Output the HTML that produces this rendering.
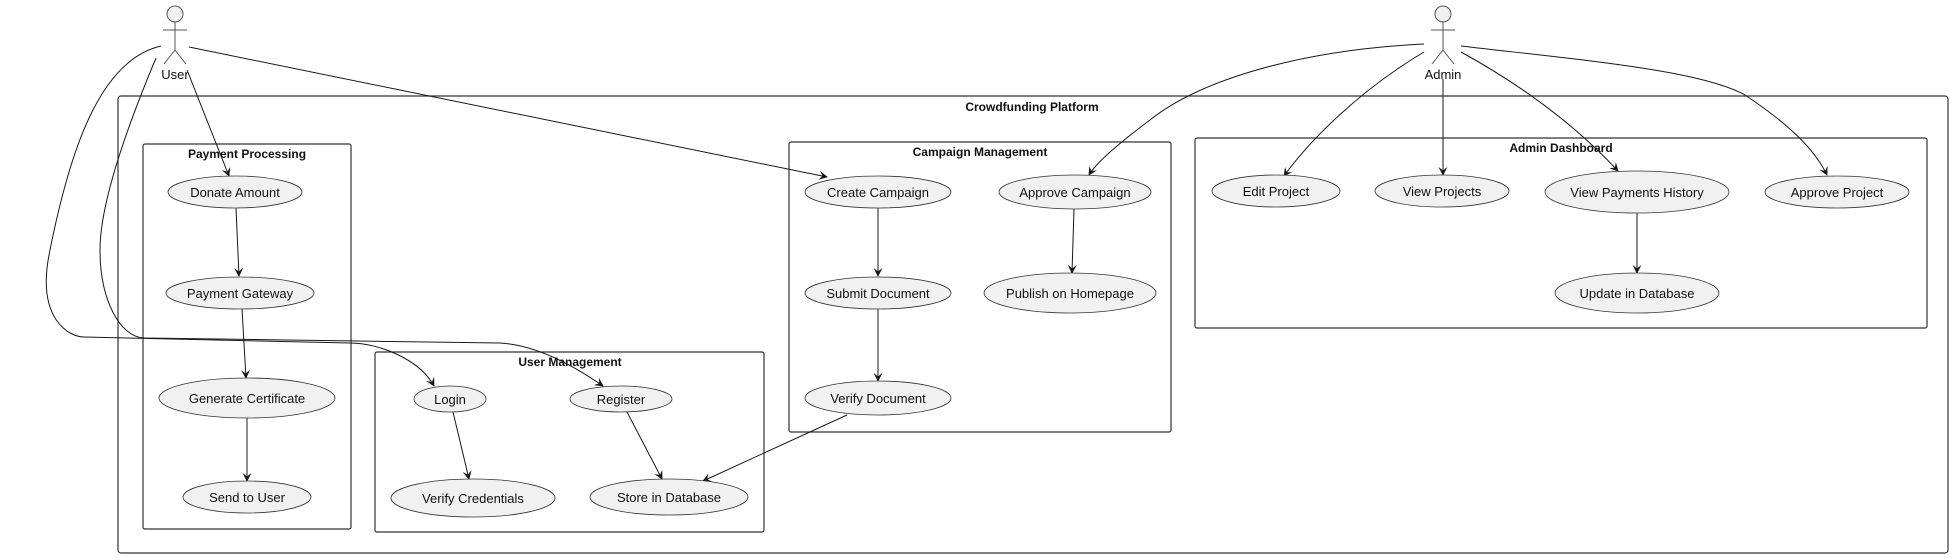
<!DOCTYPE html>
<html><head><meta charset="utf-8"><style>
html,body{margin:0;padding:0;background:#fff;}
svg{display:block;}
text{font-family:"Liberation Sans",sans-serif;fill:#111;}
.t{font-size:13px;text-anchor:middle;}
.b{font-size:12px;font-weight:bold;text-anchor:middle;}
.e{fill:#f1f1f1;stroke:#333;stroke-width:0.8;}
.box{fill:none;stroke:#333;stroke-width:1.2;}
.c{fill:none;stroke:#181818;stroke-width:1;}
</style></head><body>
<svg width="1954" height="560" viewBox="0 0 1954 560" xmlns="http://www.w3.org/2000/svg">
<defs><marker id="a" viewBox="0 0 10 10" refX="9" refY="5" markerWidth="9" markerHeight="9" orient="auto"><path d="M0,0 L10,5 L0,10 L4,5 Z" fill="#181818"/></marker></defs>

<!-- boxes -->
<rect class="box" x="118" y="96" width="1830" height="457" rx="3"/>
<text class="b" x="1032" y="111">Crowdfunding Platform</text>
<rect class="box" x="143" y="144" width="208" height="385" rx="2"/>
<text class="b" x="247" y="158">Payment Processing</text>
<rect class="box" x="375" y="352" width="389" height="180" rx="2"/>
<text class="b" x="570" y="366">User Management</text>
<rect class="box" x="789" y="142" width="382" height="290" rx="2"/>
<text class="b" x="980" y="156">Campaign Management</text>
<rect class="box" x="1195" y="138" width="732" height="190" rx="2"/>
<text class="b" x="1561" y="152">Admin Dashboard</text>

<!-- actors -->
<g stroke="#555" stroke-width="1" fill="#f1f1f1">
<circle cx="175" cy="14" r="8"/>
<line x1="175" y1="22" x2="175" y2="50"/><line x1="163" y1="30" x2="187" y2="30"/>
<line x1="175" y1="50" x2="164" y2="64" fill="none"/><line x1="175" y1="50" x2="186" y2="64"/>
<circle cx="1443" cy="14" r="8"/>
<line x1="1443" y1="22" x2="1443" y2="50"/><line x1="1431" y1="30" x2="1455" y2="30"/>
<line x1="1443" y1="50" x2="1432" y2="64"/><line x1="1443" y1="50" x2="1454" y2="64"/>
</g>
<text class="t" x="175" y="79">User</text>
<text class="t" x="1443" y="79">Admin</text>

<!-- connectors -->
<path class="c" marker-end="url(#a)" d="M187,70 L229,176"/>
<path class="c" marker-end="url(#a)" d="M189,47 L827,177"/>
<path class="c" marker-end="url(#a)" d="M161,46 C100,60 70,150 50,250 C35,320 70,337 84,337 L350,343 C380,343 420,360 434,386"/>
<path class="c" marker-end="url(#a)" d="M156,58 C130,120 100,200 100,250 C100,300 120,337 144,338 L500,343 C540,345 580,370 603,386"/>
<path class="c" marker-end="url(#a)" d="M236,208 L239,276"/>
<path class="c" marker-end="url(#a)" d="M242,309 L246,378"/>
<path class="c" marker-end="url(#a)" d="M247,418 L247,481"/>
<path class="c" marker-end="url(#a)" d="M453,412 L469,479"/>
<path class="c" marker-end="url(#a)" d="M627,412 L662,479"/>
<path class="c" marker-end="url(#a)" d="M878,208 L878,276"/>
<path class="c" marker-end="url(#a)" d="M878,309 L878,381"/>
<path class="c" marker-end="url(#a)" d="M847,415 L703,481"/>
<path class="c" marker-end="url(#a)" d="M1074,209 L1072,273"/>
<path class="c" marker-end="url(#a)" d="M1637,213 L1637,273"/>
<path class="c" marker-end="url(#a)" d="M1424,44 C1300,50 1200,80 1150,120 C1110,150 1095,165 1089,175"/>
<path class="c" marker-end="url(#a)" d="M1424,52 C1360,90 1310,140 1284,176"/>
<path class="c" marker-end="url(#a)" d="M1443,79 L1443,175"/>
<path class="c" marker-end="url(#a)" d="M1461,52 C1530,90 1580,130 1618,171"/>
<path class="c" marker-end="url(#a)" d="M1461,46 C1580,60 1700,70 1745,95 C1790,125 1815,150 1827,175"/>

<!-- ellipses -->
<ellipse class="e" cx="235" cy="192" rx="67" ry="16"/><text class="t" x="235" y="197">Donate Amount</text>
<ellipse class="e" cx="240" cy="293" rx="74" ry="16"/><text class="t" x="240" y="298">Payment Gateway</text>
<ellipse class="e" cx="247" cy="398" rx="88" ry="20"/><text class="t" x="247" y="403">Generate Certificate</text>
<ellipse class="e" cx="247" cy="497" rx="64" ry="16"/><text class="t" x="247" y="502">Send to User</text>
<ellipse class="e" cx="450" cy="399" rx="36" ry="13"/><text class="t" x="450" y="404">Login</text>
<ellipse class="e" cx="621" cy="399" rx="51" ry="13"/><text class="t" x="621" y="404">Register</text>
<ellipse class="e" cx="473" cy="498" rx="82" ry="19"/><text class="t" x="473" y="503">Verify Credentials</text>
<ellipse class="e" cx="669" cy="497" rx="79" ry="18"/><text class="t" x="669" y="502">Store in Database</text>
<ellipse class="e" cx="878" cy="192" rx="73" ry="16"/><text class="t" x="878" y="197">Create Campaign</text>
<ellipse class="e" cx="878" cy="293" rx="73" ry="16"/><text class="t" x="878" y="298">Submit Document</text>
<ellipse class="e" cx="878" cy="398" rx="73" ry="17"/><text class="t" x="878" y="403">Verify Document</text>
<ellipse class="e" cx="1075" cy="192" rx="76" ry="17"/><text class="t" x="1075" y="197">Approve Campaign</text>
<ellipse class="e" cx="1070" cy="293" rx="86" ry="20"/><text class="t" x="1070" y="298">Publish on Homepage</text>
<ellipse class="e" cx="1276" cy="191" rx="64" ry="16"/><text class="t" x="1276" y="196">Edit Project</text>
<ellipse class="e" cx="1442" cy="191" rx="67" ry="16"/><text class="t" x="1442" y="196">View Projects</text>
<ellipse class="e" cx="1637" cy="192" rx="92" ry="21"/><text class="t" x="1637" y="197">View Payments History</text>
<ellipse class="e" cx="1837" cy="192" rx="72" ry="16"/><text class="t" x="1837" y="197">Approve Project</text>
<ellipse class="e" cx="1637" cy="293" rx="82" ry="20"/><text class="t" x="1637" y="298">Update in Database</text>
</svg>
</body></html>
